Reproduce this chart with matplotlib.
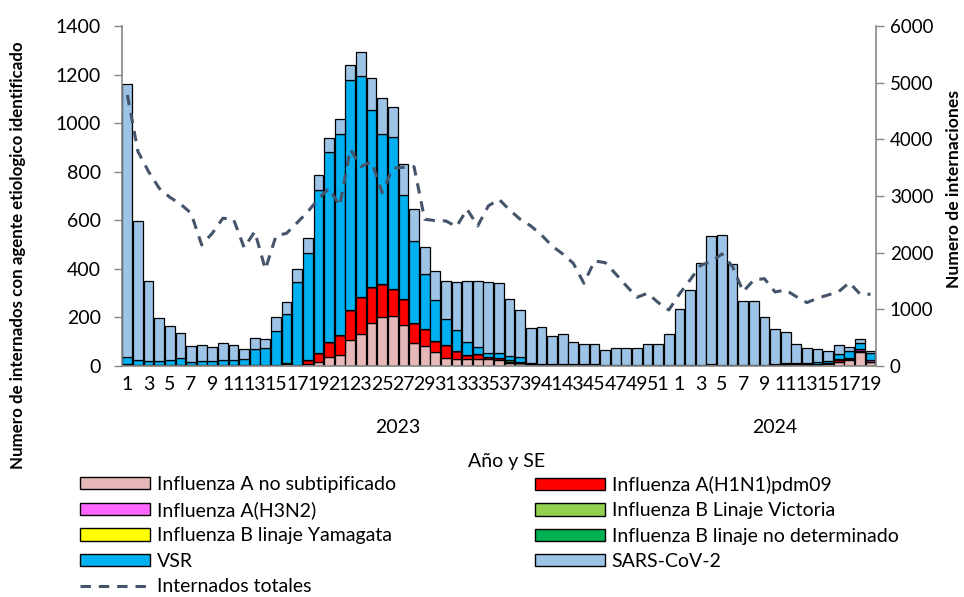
import matplotlib.pyplot as plt
from matplotlib.patches import Patch
from matplotlib.lines import Line2D
import numpy as np

plt.rcParams['font.family'] = ['Lato', 'DejaVu Sans']

# semanas epidemiologicas: 2023 SE 1-52, 2024 SE 1-19
weeks_2023 = list(range(1, 53))
weeks_2024 = list(range(1, 20))
week_labels = [str(w) for w in weeks_2023 + weeks_2024]

# internados con agente identificado, por semana
flu_a_nosub = [2, 2, 2, 1, 1, 1, 1, 1, 0, 0, 0, 0, 0, 0, 0, 10, 3, 10, 18, 38,
               47, 107, 130, 178, 201, 205, 167, 93, 81, 59, 34, 27, 27, 27, 27, 25, 14, 12, 8, 3,
               3, 4, 6, 2, 2, 2, 2, 1, 1, 1, 1, 1,
               1, 1, 1, 1, 1, 1, 1, 1, 2, 2, 3, 3, 5, 6, 8, 18, 25, 58, 15]
flu_h1n1 = [0, 0, 0, 0, 0, 0, 0, 0, 0, 0, 0, 0, 0, 0, 0, 2, 2, 16, 34, 60,
            82, 122, 152, 147, 135, 110, 110, 85, 72, 44, 51, 33, 17, 21, 11, 9, 3, 2, 0, 0,
            0, 0, 0, 0, 0, 0, 0, 0, 0, 0, 0, 0,
            0, 0, 0, 0, 0, 0, 0, 0, 0, 0, 1, 1, 1, 2, 3, 6, 5, 4, 0]
flu_h3n2 = [0, 0, 0, 0, 0, 0, 0, 0, 0, 0, 0, 0, 0, 0, 0, 0, 0, 0, 0, 0,
            0, 0, 0, 0, 0, 0, 0, 0, 0, 0, 0, 0, 0, 0, 0, 0, 0, 0, 0, 0,
            0, 0, 0, 0, 0, 0, 0, 0, 0, 0, 0, 0,
            0, 0, 0, 6, 2, 0, 0, 0, 0, 0, 1, 1, 1, 1, 2, 3, 3, 6, 8]
flu_b_victoria = [0, 0, 0, 0, 0, 0, 0, 0, 0, 0, 0, 0, 0, 0, 0, 0, 0, 0, 0, 0,
                  0, 0, 0, 0, 0, 0, 0, 0, 0, 0, 0, 0, 0, 0, 0, 0, 0, 0, 0, 0,
                  0, 0, 0, 0, 0, 0, 0, 0, 0, 0, 0, 0,
                  0, 0, 0, 0, 0, 0, 0, 0, 0, 0, 0, 0, 0, 0, 0, 0, 0, 0, 0]
flu_b_yamagata = [0] * 71
flu_b_nodet = [8, 3, 2, 1, 1, 1, 1, 1, 2, 2, 2, 2, 2, 2, 2, 0, 0, 0, 0, 0,
               0, 0, 3, 0, 0, 0, 0, 0, 0, 0, 0, 0, 0, 0, 0, 0, 8, 2, 0, 0,
               0, 0, 2, 5, 6, 2, 2, 1, 1, 1, 1, 1,
               1, 1, 1, 1, 1, 1, 1, 1, 1, 1, 2, 2, 1, 1, 1, 0, 0, 0, 0]
vsr = [28, 20, 16, 20, 24, 29, 14, 20, 20, 24, 24, 28, 66, 71, 140, 204, 339, 440, 671, 783,
       826, 947, 908, 729, 619, 627, 426, 337, 224, 168, 109, 87, 55, 31, 17, 18, 16, 19, 4, 6,
       6, 5, 0, 0, 0, 0, 1, 1, 1, 1, 1, 1,
       1, 1, 1, 1, 1, 1, 2, 2, 2, 5, 4, 5, 6, 5, 6, 24, 29, 27, 32]
sars_cov2 = [1122, 571, 329, 174, 138, 106, 66, 64, 57, 67, 59, 41, 46, 37, 59, 49, 56, 62, 63, 59,
             61, 62, 100, 130, 147, 123, 127, 131, 113, 122, 154, 199, 250, 269, 290, 289, 233, 197, 144, 153,
             114, 122, 92, 83, 81, 60, 71, 70, 70, 89, 89, 130,
             233, 311, 420, 527, 534, 416, 262, 262, 195, 145, 130, 80, 58, 54, 42, 34, 15, 17, 7]

# total de internaciones (eje derecho)
internados_totales = [4783, 3783, 3430, 3136, 2977, 2859, 2695, 2136, 2342, 2607,
                      2589, 2088, 2371, 1707, 2295, 2342, 2530, 2724, 2950, 3136,
                      2824, 3824, 3518, 3606, 3059, 3489, 3506, 3518, 2589, 2565,
                      2559, 2459, 2765, 2471, 2824, 2942, 2753, 2589, 2471, 2312,
                      2118, 1977, 1812, 1459, 1853, 1824, 1624, 1412, 1212, 1283,
                      1118, 988,
                      1271, 1518, 1777, 1841, 1977, 1753, 1312, 1518, 1541, 1306,
                      1341, 1224, 1118, 1195, 1253, 1312, 1471, 1271, 1265]

series = [
    ('Influenza A no subtipificado', flu_a_nosub, '#E6B9B8'),
    ('Influenza A(H1N1)pdm09', flu_h1n1, '#FF0000'),
    ('Influenza A(H3N2)', flu_h3n2, '#FF66FF'),
    ('Influenza B Linaje Victoria', flu_b_victoria, '#92D050'),
    ('Influenza B linaje Yamagata', flu_b_yamagata, '#FFFF00'),
    ('Influenza B linaje no determinado', flu_b_nodet, '#00B050'),
    ('VSR', vsr, '#00B0F0'),
    ('SARS-CoV-2', sars_cov2, '#9DC3E6'),
]

fig = plt.figure(figsize=(9.64, 5.97), dpi=100)
ax = fig.add_axes([0.1266, 0.387, 0.782, 0.5695])
x = np.arange(len(week_labels))

bottom = np.zeros(len(x))
for name, vals, color in series:
    vals = np.array(vals, dtype=float)
    ax.bar(x, vals, width=0.92, bottom=bottom, color=color,
           edgecolor='black', linewidth=0.9, zorder=2)
    bottom += vals

ax.set_xlim(-0.5, len(x) - 0.5)
ax.set_ylim(0, 1400)
ax.set_yticks(range(0, 1401, 200))
ax.set_xticks(x[::2])
ax.set_xticklabels(week_labels[::2])
ax.tick_params(axis='x', length=0, labelsize=14, pad=7)
ax.tick_params(axis='y', length=6, width=1, color='#868686', labelsize=14, pad=9)

for side in ['top', 'right']:
    ax.spines[side].set_visible(False)
for side in ['left', 'bottom']:
    ax.spines[side].set_color('#868686')
    ax.spines[side].set_linewidth(1.2)

ax2 = ax.twinx()
ax2.plot(x, internados_totales, color='#44546A', lw=2.2,
         linestyle=(0, (3.4, 2.6)), zorder=3)
ax2.set_ylim(0, 6000)
ax2.set_yticks(range(0, 6001, 1000))
ax2.tick_params(axis='y', length=6, width=1, color='#868686', labelsize=13.5, pad=4)
for side in ['top', 'left', 'bottom']:
    ax2.spines[side].set_visible(False)
ax2.spines['right'].set_color('#868686')
ax2.spines['right'].set_linewidth(1.2)

# etiquetas de año y titulo del eje x
ax.text(25.5, -0.182, '2023', transform=ax.get_xaxis_transform(),
        ha='center', va='center', fontsize=14)
ax.text(61, -0.182, '2024', transform=ax.get_xaxis_transform(),
        ha='center', va='center', fontsize=14)
ax.text(0.51, -0.28, 'Año y SE', transform=ax.transAxes,
        ha='center', va='center', fontsize=14)

fig.text(0.019, 0.573, 'Numero de internados con agente etiologico identificado',
         rotation=90, ha='center', va='center', fontsize=12.2, fontweight='bold')
fig.text(0.990, 0.683, 'Numero de internaciones',
         rotation=90, ha='center', va='center', fontsize=12.6, fontweight='bold')

# leyenda en dos columnas
patches = {name: Patch(facecolor=color, edgecolor='black', linewidth=1)
           for name, vals, color in series}
line_handle = Line2D([], [], color='#44546A', lw=2.2, linestyle=(0, (3.4, 2.6)))

col1 = ['Influenza A no subtipificado', 'Influenza A(H3N2)',
        'Influenza B linaje Yamagata', 'VSR']
col2 = ['Influenza A(H1N1)pdm09', 'Influenza B Linaje Victoria',
        'Influenza B linaje no determinado', 'SARS-CoV-2']

leg_kw = dict(frameon=False, fontsize=14, handlelength=3.6, handleheight=0.6,
              handletextpad=0.35, labelspacing=0.43, borderpad=0, borderaxespad=0,
              loc='upper left')
fig.legend([patches[n] for n in col1] + [line_handle], col1 + ['Internados totales'],
           bbox_to_anchor=(0.083, 0.203), **leg_kw)
fig.legend([patches[n] for n in col2], col2,
           bbox_to_anchor=(0.555, 0.203), **leg_kw)

fig.savefig('out.png', dpi=100)
